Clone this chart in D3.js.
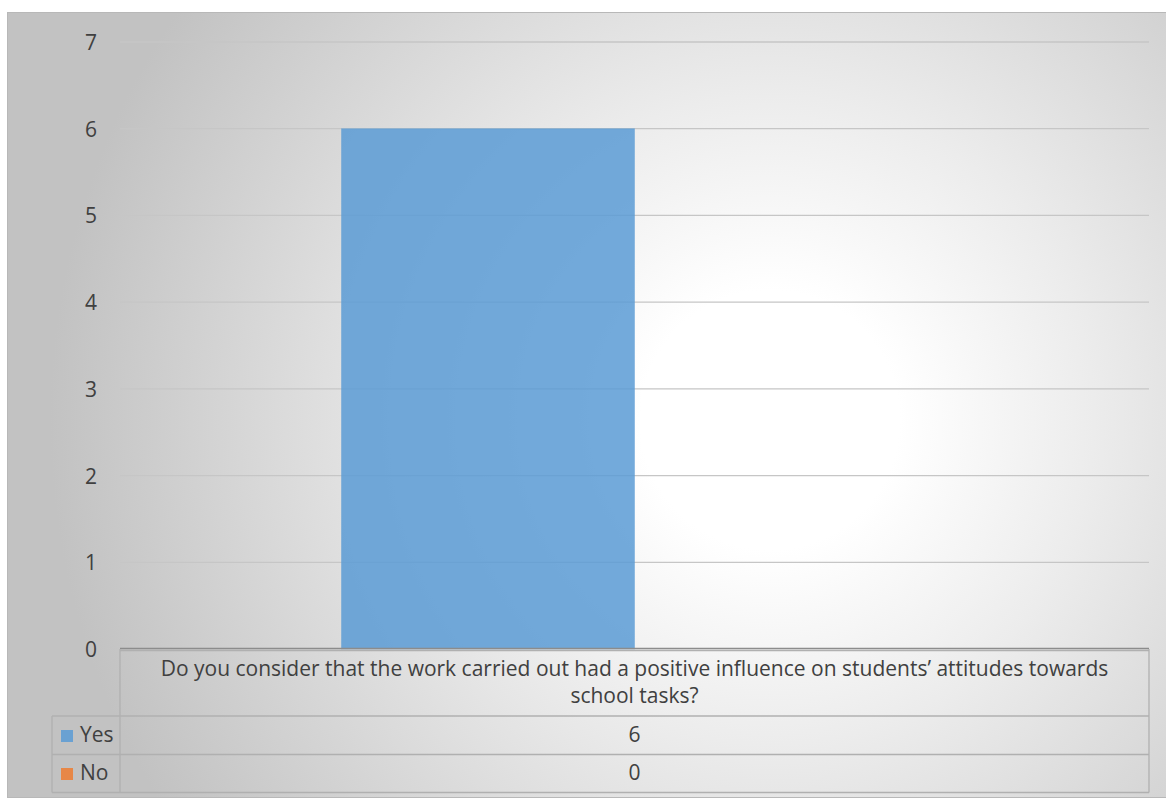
<!DOCTYPE html>
<html><head><meta charset="utf-8">
<script src="https://cdn.jsdelivr.net/npm/d3@7"></script>
<style>body{margin:0;background:#fff}text{font-family:"Open Sans",sans-serif;fill:#404040}</style>
</head><body>
<script>
const categories = ["Do you consider that the work carried out had a positive influence on students’ attitudes towards school tasks?"];
const categoryLines = ["Do you consider that the work carried out had a positive influence on students’ attitudes towards", "school tasks?"];
const seriesNames = ["Yes", "No"];
const seriesColors = ["#5b9bd5", "#ed7d31"];
const yesValues = [6];
const noValues = [0];
const yTicks = [0,1,2,3,4,5,6,7];

const W = 1166, H = 800;
const FS = "21px";
const svg = d3.select("body").append("svg").attr("width", W).attr("height", H);
const defs = svg.append("defs");
const g = defs.append("radialGradient").attr("id","bg").attr("gradientUnits","userSpaceOnUse")
  .attr("cx",770).attr("cy",420).attr("r",720);
g.append("stop").attr("offset","0").attr("stop-color","#ffffff");
g.append("stop").attr("offset","0.18").attr("stop-color","#ffffff");
g.append("stop").attr("offset","0.45").attr("stop-color","#ececec");
g.append("stop").attr("offset","1").attr("stop-color","#c2c2c2");

svg.append("rect").attr("x",7.5).attr("y",12.5).attr("width",1170).attr("height",785)
  .attr("fill","url(#bg)").attr("stroke","#b8b8b8").attr("stroke-width",1);

const plotL = 120, plotR = 1149, plotT = 42, plotB = 649;
const y = d3.scaleLinear().domain([0,7]).range([plotB, plotT]);
const x0 = d3.scaleBand().domain(categories).range([plotL, plotR]).paddingInner(0).paddingOuter(0.378);
const x1 = d3.scaleBand().domain(seriesNames).range([0, x0.bandwidth()]).padding(0);

// gridlines
svg.append("g").selectAll("line").data(yTicks.filter(d=>d>0)).join("line")
  .attr("x1",plotL).attr("x2",plotR).attr("y1",d=>y(d)).attr("y2",d=>y(d))
  .attr("stroke","#c6c6c6").attr("stroke-width",1.3);

// y tick labels
const yAxis = d3.axisLeft(y).tickValues(yTicks).tickFormat(d3.format("d")).tickSize(0).tickPadding(0);
const ya = svg.append("g").attr("transform",`translate(97,0)`).call(yAxis);
ya.select(".domain").remove();
ya.selectAll("text").style("font-size",FS).attr("fill","#404040").attr("dy","0.36em");

// bars
const data = categories.map((c,i)=>({cat:c, vals:[yesValues[i], noValues[i]]}));
const cg = svg.append("g").selectAll("g").data(data).join("g")
  .attr("transform",d=>`translate(${x0(d.cat)},0)`);
cg.selectAll("rect").data(d=>d.vals.map((v,j)=>({v, s:seriesNames[j], c:seriesColors[j]}))).join("rect")
  .attr("x",d=>x1(d.s)).attr("width",x1.bandwidth())
  .attr("y",d=>y(d.v)).attr("height",d=>y(0)-y(d.v))
  .attr("fill",d=>d.c).attr("fill-opacity",0.85)
  .attr("stroke",d=>d.c).attr("stroke-opacity",0.4);

// data table
const legL = 52, rowH = [649, 716, 754.5, 792.5];
const tbl = svg.append("g").attr("stroke","#b0b0b0").attr("stroke-width",1.3).attr("fill","none");
tbl.append("line").attr("x1",plotL).attr("x2",plotR).attr("y1",plotB-0.5).attr("y2",plotB-0.5).attr("stroke","#8c8c8c");
tbl.append("line").attr("x1",plotL).attr("x2",plotR).attr("y1",plotB+1.5).attr("y2",plotB+1.5);
tbl.append("line").attr("x1",plotL).attr("x2",plotL).attr("y1",plotB).attr("y2",rowH[3]);
tbl.append("line").attr("x1",plotR).attr("x2",plotR).attr("y1",plotB).attr("y2",rowH[3]);
tbl.append("line").attr("x1",legL).attr("x2",legL).attr("y1",rowH[1]).attr("y2",rowH[3]);
[1,2,3].forEach(i=>tbl.append("line").attr("x1",legL).attr("x2",plotR).attr("y1",rowH[i]).attr("y2",rowH[i]));

const cx = x0(categories[0]) + x0.bandwidth()/2;
svg.append("g").selectAll("text").data(categoryLines).join("text")
  .attr("x",cx).attr("y",(d,i)=>676+i*27).attr("text-anchor","middle").style("font-size",FS).text(d=>d);

const rows = seriesNames.map((s,i)=>({s, c:seriesColors[i], v:[yesValues, noValues][i][0]}));
const rg = svg.append("g").selectAll("g").data(rows).join("g");
rg.append("rect").attr("x",61).attr("y",(d,i)=>730+i*38).attr("width",12).attr("height",12)
  .attr("fill",d=>d.c).attr("fill-opacity",0.85);
rg.append("text").attr("x",80).attr("y",(d,i)=>742+i*38).style("font-size",FS).text(d=>d.s);
rg.append("text").attr("x",cx).attr("y",(d,i)=>742+i*38).attr("text-anchor","middle").style("font-size",FS).text(d=>d.v);
</script>
</body></html>
